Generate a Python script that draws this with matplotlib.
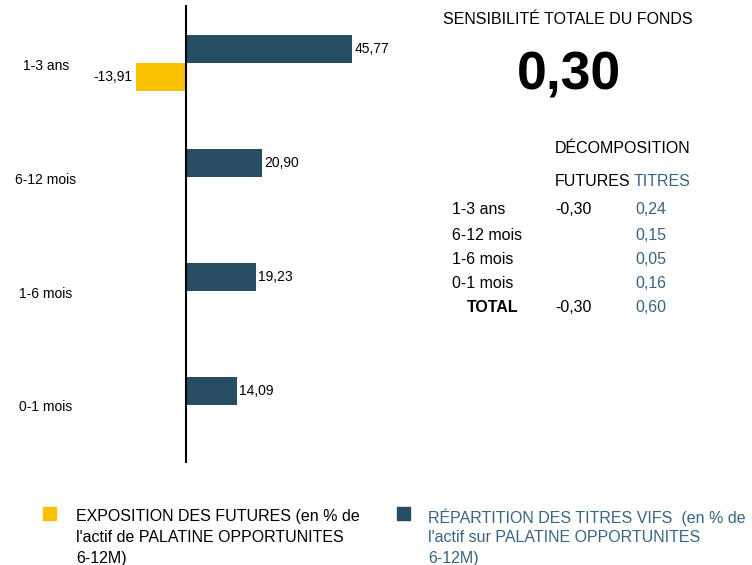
import matplotlib
matplotlib.use("Agg")
import matplotlib.pyplot as plt
import numpy as np
from matplotlib.patches import Rectangle

plt.rcParams['font.family'] = ['Liberation Sans', 'DejaVu Sans']

categories = ["1-3 ans", "6-12 mois", "1-6 mois", "0-1 mois"]
titres = [45.77, 20.90, 19.23, 14.09]
futures = [-13.91, None, None, None]
titres_labels = ["45,77", "20,90", "19,23", "14,09"]
futures_labels = ["-13,91", None, None, None]

sens_total = "0,30"
decomp_rows = ["1-3 ans", "6-12 mois", "1-6 mois", "0-1 mois"]
decomp_futures = ["-0,30", "", "", ""]
decomp_titres = ["0,24", "0,15", "0,05", "0,16"]
total_futures = "-0,30"
total_titres = "0,60"

DARK = "#264D64"
YELLOW = "#F8C200"
BLUE_TXT = "#3A6482"

W, H = 752, 565
fig = plt.figure(figsize=(W/100, H/100), dpi=100)

def fx(px): return px / W
def fy(py): return 1 - py / H

ax_l, ax_r, ax_t, ax_b = 100, 400, 5, 463
ax = fig.add_axes([fx(ax_l), fy(ax_b), fx(ax_r) - fx(ax_l), (ax_b - ax_t) / H])
scale = (352 - 186) / 45.77
ax.set_xlim((ax_l - 186) / scale, (ax_r - 186) / scale)
ax.set_ylim(3.51, -0.51)
ax.axis('off')

y = np.arange(len(categories))
h = 0.245
ax.barh(y - h/2, titres, height=h, color=DARK)
fv = [v if v is not None else 0 for v in futures]
ax.barh(y + h/2, fv, height=h, color=YELLOW)
ax.axvline(0, color='black', lw=1.5)

for i, (v, lab) in enumerate(zip(titres, titres_labels)):
    ax.text(v + 0.6, i - h/2, lab, ha='left', va='center', fontsize=10, color='black')
for i, (v, lab) in enumerate(zip(futures, futures_labels)):
    if v is not None:
        ax.text(v - 1.0, i + h/2, lab, ha='right', va='center', fontsize=10, color='black')

label_py = [66, 180, 294, 407]
for c, py in zip(categories, label_py):
    fig.text(fx(46), fy(py), c, ha='center', va='center', fontsize=10)

FS = 11.5
fig.text(fx(568), fy(19), "SENSIBILITÉ TOTALE DU FONDS", ha='center', va='center', fontsize=FS)
fig.text(fx(569), fy(75), sens_total, ha='center', va='center', fontsize=38.5, fontweight='bold')
fig.text(fx(555), fy(148), "DÉCOMPOSITION", ha='left', va='center', fontsize=FS)
fig.text(fx(555), fy(182), "FUTURES", ha='left', va='center', fontsize=FS)
fig.text(fx(634), fy(182), "TITRES", ha='left', va='center', fontsize=FS, color=BLUE_TXT)
row_py = [210, 235, 259, 284]
for r, f, t, py in zip(decomp_rows, decomp_futures, decomp_titres, row_py):
    fig.text(fx(452), fy(py), r, ha='left', va='center', fontsize=FS)
    if f:
        fig.text(fx(555), fy(py), f, ha='left', va='center', fontsize=FS)
    fig.text(fx(635), fy(py), t, ha='left', va='center', fontsize=FS, color=BLUE_TXT)
fig.text(fx(467), fy(308), "TOTAL", ha='left', va='center', fontsize=FS, fontweight='bold')
fig.text(fx(555), fy(308), total_futures, ha='left', va='center', fontsize=FS)
fig.text(fx(635), fy(308), total_titres, ha='left', va='center', fontsize=FS, color=BLUE_TXT)

fig.patches.append(Rectangle((fx(43), fy(520)), fx(13), 13/H, transform=fig.transFigure, color=YELLOW))
fig.patches.append(Rectangle((fx(397), fy(520)), fx(13), 13/H, transform=fig.transFigure, color=DARK))
leg1 = ["EXPOSITION DES FUTURES (en % de", "l'actif de PALATINE OPPORTUNITES", "6-12M)"]
leg2 = ["RÉPARTITION DES TITRES VIFS  (en % de", "l'actif sur PALATINE OPPORTUNITES", "6-12M)"]
for k, (a, b) in enumerate(zip(leg1, leg2)):
    py = 517 + 20.5 * k
    fig.text(fx(76), fy(py), a, ha='left', va='center', fontsize=FS)
    fig.text(fx(428), fy(py), b, ha='left', va='center', fontsize=FS, color=BLUE_TXT)

fig.savefig("out.png", dpi=100)
